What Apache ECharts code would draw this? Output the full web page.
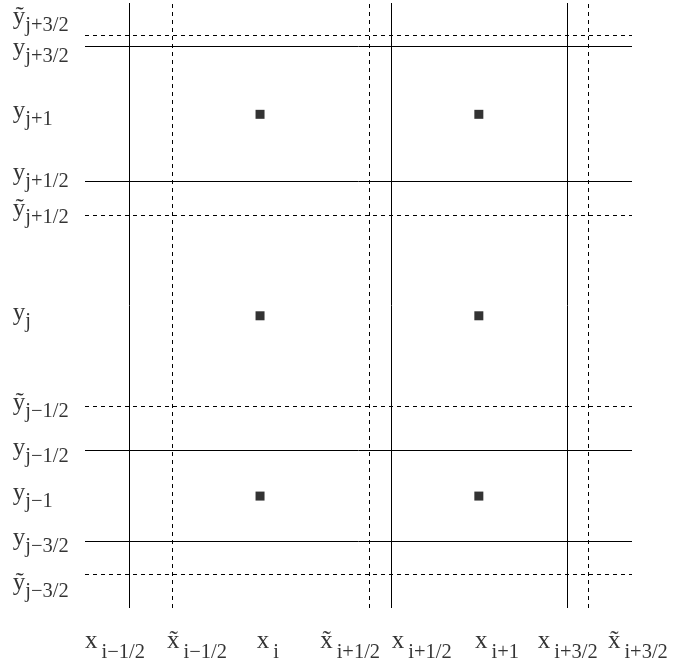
<!DOCTYPE html>
<html><head><meta charset="utf-8">
<script src="https://cdn.jsdelivr.net/npm/echarts@6/dist/echarts.min.js"></script>
<style>html,body{margin:0;padding:0;background:#fff}#c{width:673px;height:664px}</style>
</head><body><div id="c"></div>
<script>
// grid lines (abstract units 0..100 on both axes)
const xSolid = [8.0, 56.0, 88.1];
const xDashed = [16.0, 52.0, 92.0];
const ySolid = [92.8, 70.5, 26.0, 11.0];
const yDashed = [94.7, 65.0, 33.4, 5.6];
// cell centres
const pointX = [32.0, 72.0];
const pointY = [81.6, 48.3, 18.5];
// y labels
const yLabelMain = ['ỹ','y','y','y','ỹ','y','ỹ','y','y','y','ỹ'];
const yLabelSub = ['j+3/2','j+3/2','j+1','j+1/2','j+1/2','j','j−1/2','j−1/2','j−1','j−3/2','j−3/2'];
const yLabelPos = [97.6, 92.5, 82.1, 71.8, 65.9, 48.7, 33.8, 26.4, 18.9, 11.5, 4.05];
const yLabelX = -13.2;
// x labels
const xLabelMain = ['x','x̃','x','x̃','x','x','x','x̃'];
const xLabelSub = ['i−1/2','i−1/2','i','i+1/2','i+1/2','i+1','i+3/2','i+3/2'];
const xLabelPos = [0, 15.0, 31.4, 43.0, 56.1, 71.3, 82.8, 95.6];
const xLabelY = -5.6;

const FONT = 'Liberation Serif';
const points = [];
pointY.forEach(y => pointX.forEach(x => points.push([x, y])));

const lineData = [];
xSolid.forEach(v => lineData.push({xAxis: v, lineStyle: {type: 'solid'}}));
xDashed.forEach(v => lineData.push({xAxis: v, lineStyle: {type: [4, 4]}}));
ySolid.forEach(v => lineData.push({yAxis: v, lineStyle: {type: 'solid'}}));
yDashed.forEach(v => lineData.push({yAxis: v, lineStyle: {type: [4, 4]}}));

function labelSeries(data, subPad) {
  return {
    type: 'scatter', clip: false, silent: true, symbolSize: 0.1,
    itemStyle: {color: 'rgba(0,0,0,0)'},
    data: data,
    label: {
      show: true, position: [0, 0], align: 'left', verticalAlign: 'middle',
      formatter: p => '{m|' + p.data[2] + '}{s|' + p.data[3] + '}',
      rich: {
        m: {fontFamily: FONT, fontSize: 25, lineHeight: 25, color: '#000'},
        s: {fontFamily: FONT, fontSize: 20.5, lineHeight: 20, color: '#000', padding: subPad}
      }
    }
  };
}

const chart = echarts.init(document.getElementById('c'));
chart.setOption({
  animation: false,
  backgroundColor: '#fff',
  grid: {left: 85, right: 41, top: 3, bottom: 56},
  xAxis: {type: 'value', min: 0, max: 100, show: false},
  yAxis: {type: 'value', min: 0, max: 100, show: false},
  series: [
    {
      type: 'scatter', silent: true, symbol: 'rect', symbolSize: 9,
      itemStyle: {color: '#000'}, data: points,
      markLine: {
        silent: true, symbol: ['none', 'none'], label: {show: false},
        lineStyle: {color: '#000', width: 1}, emphasis: {disabled: true},
        data: lineData
      }
    },
    labelSeries(yLabelPos.map((y, i) => [yLabelX, y, yLabelMain[i], yLabelSub[i]]), [16, 0, 0, 0]),
    labelSeries(xLabelPos.map((x, i) => [x, xLabelY, xLabelMain[i], xLabelSub[i]]), [22, 0, 0, 4])
  ]
});
</script></body></html>
